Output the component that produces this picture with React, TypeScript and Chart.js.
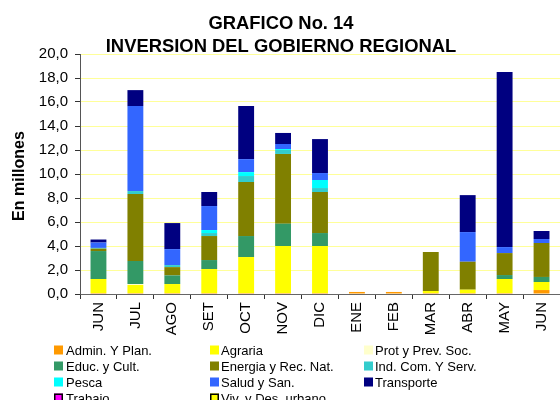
import React, { useEffect, useRef } from 'react';
import { Chart, registerables } from 'chart.js';

Chart.register(...registerables);

const FONT = "'Liberation Sans', Arial, sans-serif";

const months = ['JUN', 'JUL', 'AGO', 'SET', 'OCT', 'NOV', 'DIC', 'ENE', 'FEB', 'MAR', 'ABR', 'MAY', 'JUN'];
const yTickLabels = ['0,0', '2,0', '4,0', '6,0', '8,0', '10,0', '12,0', '14,0', '16,0', '18,0', '20,0'];

const adminPlan = [0.08, 0.08, 0.08, 0.08, 0.08, 0.08, 0.08, 0.17, 0.17, 0.08, 0.08, 0.08, 0.33];
const agraria = [1.17, 0.67, 0.75, 2.0, 3.0, 3.92, 3.92, 0, 0, 0.17, 0.28, 1.17, 0.67];
const protPrev = [0, 0.08, 0, 0, 0, 0, 0, 0, 0, 0, 0, 0, 0];
const educCult = [2.33, 1.92, 0.72, 0.75, 1.75, 1.86, 1.08, 0, 0, 0, 0, 0.33, 0.42];
const energia = [0.2, 5.58, 0.69, 2.0, 4.5, 5.81, 3.42, 0, 0, 3.25, 2.33, 1.83, 2.83];
const indCom = [0.06, 0.25, 0.17, 0.25, 0.5, 0.33, 0.33, 0, 0, 0, 0, 0, 0];
const pesca = [0, 0, 0, 0.25, 0.33, 0.08, 0.67, 0, 0, 0, 0, 0, 0];
const salud = [0.45, 7.08, 1.33, 2.0, 1.08, 0.42, 0.58, 0, 0, 0, 2.47, 0.5, 0.33];
const transporte = [0.25, 1.33, 2.17, 1.17, 4.42, 0.92, 2.83, 0, 0, 0, 3.08, 14.58, 0.67];
const trabajo = [0, 0, 0, 0, 0, 0, 0, 0, 0, 0, 0, 0, 0];
const vivienda = [0, 0, 0, 0, 0, 0, 0, 0, 0, 0, 0, 0, 0];

const seriesNames = [
  'Admin. Y Plan.', 'Agraria', 'Prot y Prev. Soc.',
  'Educ. y Cult.', 'Energia y Rec. Nat.', 'Ind. Com. Y Serv.',
  'Pesca', 'Salud y San.', 'Transporte',
  'Trabajo', 'Viv. y Des. urbano',
];
const seriesData = [adminPlan, agraria, protPrev, educCult, energia, indCom, pesca, salud, transporte, trabajo, vivienda];
const seriesColors = [
  '#FF9900', '#FFFF00', '#FFFFCC',
  '#339966', '#808000', '#33CCCC',
  '#00FFFF', '#3366FF', '#000080',
  '#FF00FF', '#FFFF00',
];
const seriesOutlined = [false, false, false, false, false, false, false, false, false, true, true];

const titleLines = ['GRAFICO No. 14', 'INVERSION DEL GOBIERNO REGIONAL'];
const yTitle = 'En millones';

const extrasPlugin = {
  id: 'extras',
  afterDraw(chart: any) {
    const ctx = chart.ctx as CanvasRenderingContext2D;
    ctx.save();
    // titles
    ctx.fillStyle = '#000';
    ctx.font = `bold 18.4px ${FONT}`;
    ctx.textAlign = 'center';
    ctx.textBaseline = 'alphabetic';
    ctx.fillText(titleLines[0], 281, 29);
    ctx.fillText(titleLines[1], 281, 52);
    // y title
    ctx.save();
    ctx.translate(24, 176);
    ctx.rotate(-Math.PI / 2);
    ctx.font = `bold 16px ${FONT}`;
    ctx.textAlign = 'center';
    ctx.textBaseline = 'alphabetic';
    ctx.fillText(yTitle, 0, 0);
    ctx.restore();
    // legend
    const colBox = [54, 210, 364];
    const colText = [66, 221, 375];
    const rowY = [350, 366, 382, 398];
    ctx.font = `13px ${FONT}`;
    ctx.textAlign = 'left';
    ctx.textBaseline = 'middle';
    seriesNames.forEach((name, i) => {
      const c = i % 3;
      const r = Math.floor(i / 3);
      const y = rowY[r];
      ctx.fillStyle = seriesColors[i];
      ctx.fillRect(colBox[c], y - 4.5, 9, 9);
      if (seriesOutlined[i]) {
        ctx.strokeStyle = '#000';
        ctx.lineWidth = 1.5;
        ctx.strokeRect(colBox[c] + 0.75, y - 3.75, 7.5, 7.5);
      }
      ctx.fillStyle = '#000';
      ctx.fillText(name, colText[c], y + 1);
    });
    ctx.restore();
  },
};

export default function App() {
  const ref = useRef<HTMLCanvasElement>(null);
  useEffect(() => {
    document.body.style.margin = '0';
    const chart = new Chart(ref.current!, {
      type: 'bar',
      data: {
        labels: months,
        datasets: seriesNames.map((name, i) => ({
          label: name,
          data: seriesData[i],
          backgroundColor: seriesColors[i],
          borderWidth: 0,
          categoryPercentage: 1,
          barPercentage: 0.43,
        })),
      },
      options: {
        responsive: false,
        animation: false,
        devicePixelRatio: 1,
        layout: { padding: { top: 54, left: 0, right: 0, bottom: 56 } },
        plugins: {
          legend: { display: false },
          title: { display: false },
          tooltip: { enabled: false },
        },
        scales: {
          x: {
            stacked: true,
            grid: {
              display: true,
              drawOnChartArea: false,
              offset: true,
              tickLength: 5,
              tickColor: '#333',
            },
            border: { color: '#666', width: 1 },
            ticks: {
              minRotation: 90,
              maxRotation: 90,
              padding: 3,
              color: '#000',
              font: { family: FONT, size: 15 },
            },
            afterFit(s: any) {
              s.height = 50;
              s.paddingLeft = 0;
              s.paddingRight = 0;
            },
          },
          y: {
            stacked: true,
            min: 0,
            max: 20,
            ticks: {
              stepSize: 2,
              padding: 7,
              color: '#000',
              font: { family: FONT, size: 15 },
              callback: (_v: any, i: number) => yTickLabels[i],
            },
            grid: {
              color: '#FFFF99',
              tickColor: '#333',
              tickLength: 5,
            },
            border: { color: '#555', width: 1 },
            afterFit(s: any) {
              s.width = 80;
              s.paddingTop = 0;
              s.paddingBottom = 0;
            },
          },
        },
      },
      plugins: [extrasPlugin],
    });
    return () => chart.destroy();
  }, []);
  return (
    <div style={{ position: 'absolute', left: 0, top: 0, width: 560, height: 400 }}>
      <canvas ref={ref} width={560} height={400} />
    </div>
  );
}
